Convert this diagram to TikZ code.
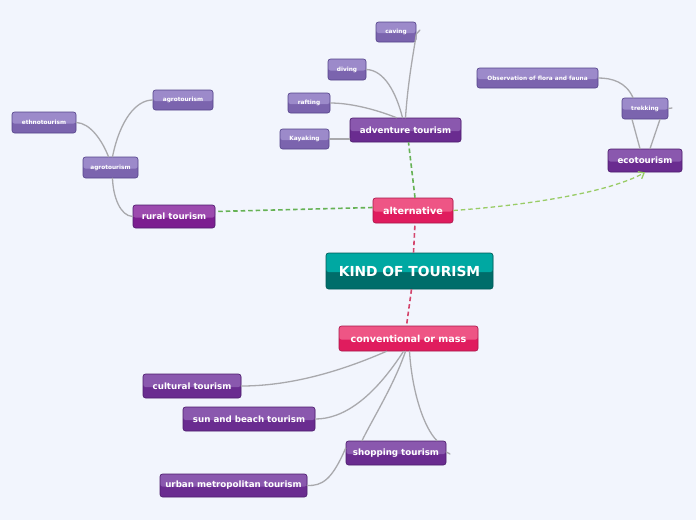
\documentclass[tikz,border=0pt]{standalone}
\usepackage{fontspec}
\setmainfont{DejaVu Sans}
\usetikzlibrary{arrows.meta}
\definecolor{bg}{HTML}{F2F5FD}
\definecolor{tealT}{HTML}{00A8A2}
\definecolor{tealB}{HTML}{006D6A}
\definecolor{tealD}{HTML}{005A57}
\definecolor{pinkT}{HTML}{EE5585}
\definecolor{pinkB}{HTML}{E01C5E}
\definecolor{pinkD}{HTML}{A8174A}
\definecolor{purT}{HTML}{8A58AE}
\definecolor{purB}{HTML}{6A2C90}
\definecolor{purD}{HTML}{4C1C6C}
\definecolor{magT}{HTML}{9C4AAE}
\definecolor{magB}{HTML}{7C1E90}
\definecolor{lavT}{HTML}{9C8ACA}
\definecolor{lavB}{HTML}{7B64AE}
\definecolor{lavD}{HTML}{54448A}
\definecolor{linkgray}{HTML}{A9A9AD}
\definecolor{dpink}{HTML}{D4456C}
\definecolor{dgreen}{HTML}{66B255}
\definecolor{lgreen}{HTML}{99CC66}
\tikzset{
  twotone/.style 2 args={fill=#2, path picture={\fill[#1] (path picture bounding box.north west) rectangle ([yshift=-1pt]path picture bounding box.east);}},
  nd/.style={rounded corners=2.5pt, inner sep=0pt, text=white, line width=0.6pt},
  kindbox/.style={nd, twotone={tealT}{tealB}, draw=tealD, font=\bfseries\fontsize{13.8}{16}\selectfont},
  pinkbox/.style={nd, twotone={pinkT}{pinkB}, draw=pinkD, font=\bfseries\fontsize{9.6}{11}\selectfont},
  purbox/.style={nd, twotone={purT}{purB}, draw=purD, font=\bfseries\fontsize{8.7}{10}\selectfont},
  magbox/.style={nd, twotone={magT}{magB}, draw=purD, font=\bfseries\fontsize{8.7}{10}\selectfont},
  lavbox/.style={nd, twotone={lavT}{lavB}, draw=lavD, font=\bfseries\fontsize{5.8}{7}\selectfont},
  link/.style={draw=linkgray, line width=1.3pt, line cap=round},
  pinkdash/.style={draw=dpink, line width=1.6pt, dash pattern=on 4.5pt off 3pt},
  greendash/.style={draw=dgreen, line width=1.6pt, dash pattern=on 4.5pt off 3pt},
  lgreendash/.style={draw=lgreen, line width=1.3pt, dash pattern=on 4.5pt off 3pt},
}
\begin{document}
\begin{tikzpicture}[x=1pt, y=-1pt]
\useasboundingbox[fill=bg] (0,0) rectangle (696,520);

% nodes
\node[kindbox, minimum width=167pt, minimum height=36pt] (kind) at (409.5,271) {KIND OF TOURISM};
\node[pinkbox, minimum width=80pt, minimum height=25pt] (alt) at (413,210.5) {alternative};
\node[pinkbox, minimum width=139pt, minimum height=25pt] (conv) at (408.5,338.5) {conventional or mass};

\node[purbox, minimum width=111pt, minimum height=24pt] (adv) at (405.5,130) {adventure tourism};
\node[magbox, minimum width=82pt, minimum height=23pt] (rural) at (174,216.5) {rural tourism};
\node[purbox, minimum width=74pt, minimum height=23pt] (eco) at (645,160.5) {ecotourism};
\node[purbox, minimum width=98pt, minimum height=24pt] (cult) at (192,386) {cultural tourism};
\node[purbox, minimum width=132pt, minimum height=24pt] (sun) at (249,419) {sun and beach tourism};
\node[purbox, minimum width=100pt, minimum height=24pt] (shop) at (396,453) {shopping tourism};
\node[purbox, minimum width=147pt, minimum height=23pt] (urban) at (233.5,485.5) {urban metropolitan tourism};

\node[lavbox, minimum width=40pt, minimum height=20pt] (caving) at (396,32) {caving};
\node[lavbox, minimum width=38pt, minimum height=21pt] (diving) at (347,69.5) {diving};
\node[lavbox, minimum width=42pt, minimum height=20pt] (rafting) at (309,103) {rafting};
\node[lavbox, minimum width=49pt, minimum height=20pt] (kayak) at (304.5,139) {Kayaking};
\node[lavbox, minimum width=60pt, minimum height=20pt] (agrotop) at (183,100) {agrotourism};
\node[lavbox, minimum width=55pt, minimum height=21pt] (agro) at (110.5,167.5) {agrotourism};
\node[lavbox, minimum width=64pt, minimum height=21pt] (ethno) at (44,122.5) {ethnotourism};
\node[lavbox, minimum width=46pt, minimum height=21pt] (trek) at (645,108.5) {trekking};
\node[lavbox, minimum width=121pt, minimum height=20pt] (obs) at (537.5,78) {Observation of flora and fauna};

\coordinate (cavtip) at (420,30);
\coordinate (trektip) at (672,108);
\coordinate (shoptip) at (450,454);

% connectors
\path[pinkdash] ([xshift=4pt]kind.north) -- ([xshift=2pt]alt.south);
\path[pinkdash] ([xshift=2pt]kind.south) -- ([xshift=-2pt]conv.north);
\path[greendash] ([xshift=2pt]alt.north) -- ([xshift=3pt]adv.south);
\path[greendash] ([yshift=3pt]alt.west) -- ([yshift=5pt]rural.east);
\path[lgreendash, -{Straight Barb[length=5pt,width=8pt]}] (alt.east) .. controls (530,205) and (610,192) .. (eco.south);

\path[link] (adv.north) .. controls (408,80) and (414,50) .. ([yshift=-2pt]caving.east) -- (cavtip);
\path[link] ([xshift=-3pt]adv.north) .. controls (396,92) and (384,70) .. (diving.east);
\path[link] ([xshift=-9pt]adv.north) .. controls (372,108) and (348,103) .. (rafting.east);
\path[link] (adv.west |- kayak.east) -- (kayak.east);

\path[link] (rural.west) .. controls (120,216) and (113,196) .. ([xshift=2pt]agro.south);
\path[link] ([xshift=2pt]agro.north) .. controls (120,120) and (136,100) .. (agrotop.west);
\path[link] ([xshift=-2pt]agro.north) .. controls (102,140) and (90,123) .. (ethno.east);

\path[link] ([xshift=-5pt]eco.north) -- ([xshift=-13pt]trek.south);
\path[link] ([xshift=5pt]eco.north) -- ([xshift=15pt]trek.south);
\path[link] ([xshift=-12pt]trek.north) .. controls (626,82) and (612,78) .. (obs.east);
\path[link] (trek.east) -- (trektip);

\path[link] ([xshift=-22pt]conv.south) .. controls (330,376) and (282,386) .. (cult.east);
\path[link] ([xshift=-5pt]conv.south) .. controls (372,400) and (342,419) .. (sun.east);
\path[link] ([xshift=-3pt]conv.south) .. controls (394,385) and (372,420) .. ([xshift=-34pt]shop.north);
\path[link] ([xshift=1pt]conv.south) .. controls (412,392) and (424,428) .. ([xshift=41pt]shop.north);
\path[link] ([yshift=1pt]shop.east) -- (shoptip);
\path[link] ([yshift=5pt]shop.west) .. controls (332,480) and (322,486) .. (urban.east);
\end{tikzpicture}
\end{document}
